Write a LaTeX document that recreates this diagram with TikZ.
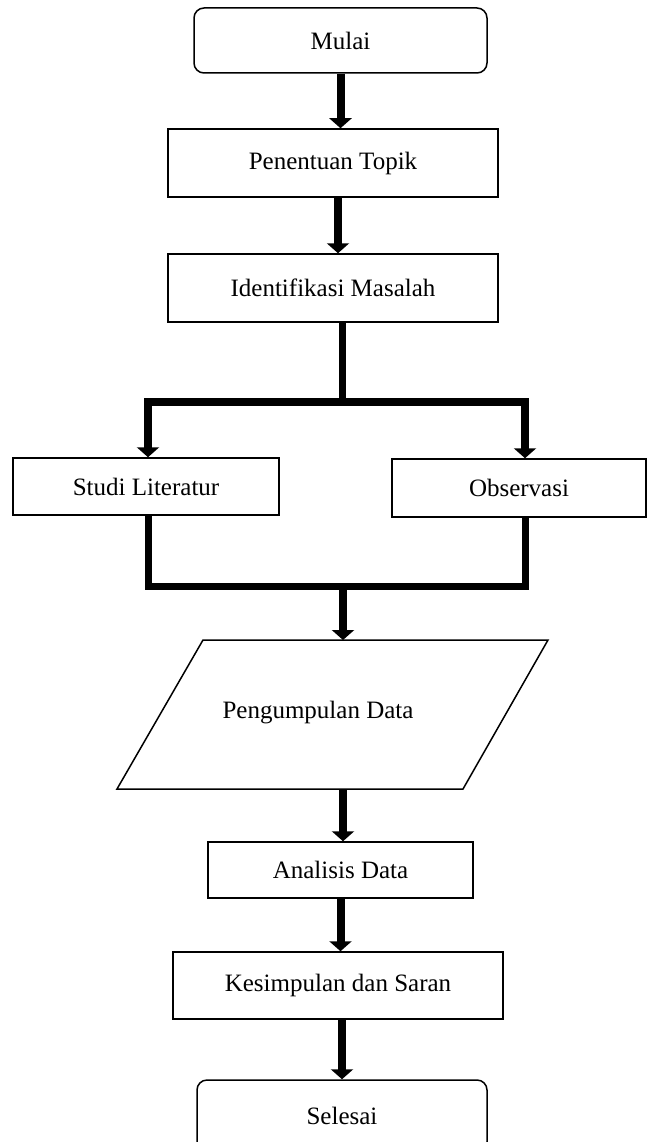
\documentclass[tikz,border=0pt]{standalone}
\usepackage{fontspec}
\setmainfont{Liberation Serif}
\usetikzlibrary{arrows.meta}

\begin{document}
\begin{tikzpicture}[x=1pt, y=-1pt,
	box/.style = {draw, line width=1.5pt, inner sep=0pt, font=\fontsize{25}{30}\selectfont},
	term/.style = {box, rounded corners=10pt},
	arr/.style = {line width=8pt, -{Triangle[length=10pt, width=22pt]}},
	bar/.style = {line width=7pt}]
	\clip (0,0) rectangle (647,1142);

	% Nodes
	\node[term, minimum width=293pt, minimum height=65pt] (mulai) at (340.5,40.5) {Mulai};
	\node[box, minimum width=330pt, minimum height=68pt] (topik) at (333,163) {Penentuan Topik};
	\node[box, minimum width=330pt, minimum height=68pt] (masalah) at (333,288) {Identifikasi Masalah};
	\node[box, minimum width=266pt, minimum height=57pt] (studi) at (146,486.5) {Studi Literatur};
	\node[box, minimum width=254pt, minimum height=58pt] (obs) at (519,488) {Observasi};
	\node[font=\fontsize{25}{30}\selectfont] (data) at (318,713) {Pengumpulan Data};
	\node[box, minimum width=265pt, minimum height=56pt] (analisis) at (340.5,870) {Analisis Data};
	\node[box, minimum width=330pt, minimum height=67pt] (simpul) at (338,985.5) {Kesimpulan dan Saran};
	\node[term, minimum width=290pt, minimum height=72pt] (selesai) at (342,1116) {Selesai};

	% Data box
	\draw[line width=1.5pt] (203,640) -- (548,640) -- (463,789) -- (117,789) -- cycle;
	\coordinate (datatop) at (343,640);
	\coordinate (databot) at (343,789);
	\coordinate (split) at (342,402);
	\coordinate (merge) at (343,586);

	% Arrows
	\draw[arr] (mulai.south) -- (mulai.south |- topik.north);
	\draw[arr] ([xshift=5pt]topik.south) -- ([xshift=5pt]masalah.north);
	\draw[bar] ([xshift=9pt]masalah.south) -- ([yshift=3pt]split);
	\draw[arr] (split) -| ([xshift=2pt]studi.north);
	\draw[arr] (split) -| ([xshift=6pt]obs.north);
	\draw[bar] ([xshift=2pt]studi.south) |- ([xshift=6pt]obs.south |- merge) -- ([xshift=6pt]obs.south);
	\draw[arr] (merge) -- (datatop);
	\draw[arr] (databot) -- (databot |- analisis.north);
	\draw[arr] (analisis.south) -- (analisis.south |- simpul.north);
	\draw[arr] ([xshift=4pt]simpul.south) -- ([xshift=4pt]simpul.south |- selesai.north);
\end{tikzpicture}
\end{document}
